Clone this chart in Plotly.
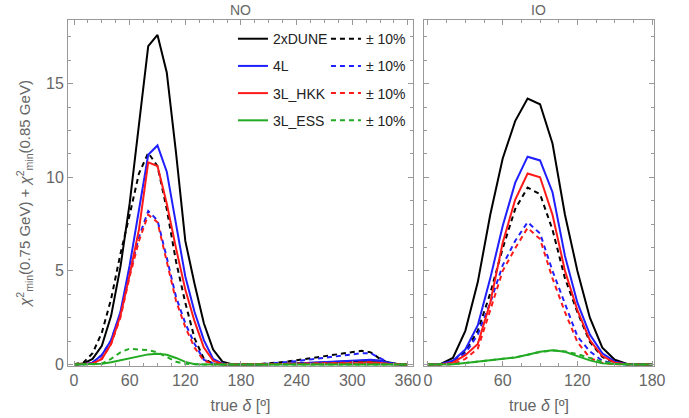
import plotly.graph_objects as go

# ---------------- data ----------------
deg_no = list(range(0, 361, 10))
deg_io = list(range(0, 181, 10))

series_names = ["2xDUNE", "4L", "3L_HKK", "3L_ESS"]
dash_label = "± 10%"

no_dune = [0, 0.05, 0.3, 1.0, 2.6, 5.2, 8.6, 12.8, 17.0, 17.6, 15.6, 11.3, 6.6, 4.3, 2.2, 0.8, 0.15, 0.02, 0,
           0, 0, 0.01, 0.02, 0.04, 0.06, 0.08, 0.1, 0.12, 0.14, 0.17, 0.19, 0.21, 0.22, 0.2, 0.1, 0.02, 0]
no_dune_d = [0.02, 0.1, 0.6, 1.7, 3.5, 5.9, 8.0, 10.2, 11.3, 10.6, 8.3, 5.5, 3.3, 1.4, 0.3, 0.05, 0, 0, 0,
             0.01, 0.03, 0.06, 0.1, 0.16, 0.23, 0.3, 0.37, 0.44, 0.5, 0.58, 0.66, 0.73, 0.65, 0.3, 0.05, 0, 0]
no_4l = [0, 0.02, 0.1, 0.5, 1.3, 2.8, 5.3, 8.2, 11.2, 11.7, 10.3, 7.5, 4.7, 2.8, 1.3, 0.3, 0.05, 0, 0,
         0, 0, 0.01, 0.02, 0.04, 0.06, 0.08, 0.1, 0.12, 0.15, 0.18, 0.2, 0.23, 0.25, 0.2, 0.08, 0.01, 0]
no_4l_d = [0, 0.02, 0.1, 0.5, 1.3, 2.7, 4.9, 6.8, 8.2, 7.7, 5.7, 3.6, 2.2, 1.1, 0.25, 0.05, 0, 0, 0,
           0.01, 0.02, 0.05, 0.08, 0.12, 0.18, 0.24, 0.3, 0.36, 0.42, 0.48, 0.54, 0.6, 0.6, 0.35, 0.08, 0, 0]
no_hkk = [0, 0.01, 0.05, 0.3, 1.1, 2.6, 4.8, 7.2, 10.8, 10.6, 8.6, 6.2, 4.0, 2.3, 0.9, 0.2, 0.03, 0, 0,
          0, 0, 0, 0.01, 0.01, 0.02, 0.03, 0.04, 0.05, 0.06, 0.07, 0.08, 0.09, 0.1, 0.08, 0.03, 0, 0]
no_hkk_d = [0, 0.01, 0.05, 0.3, 1.1, 2.5, 4.7, 6.6, 8.0, 7.6, 5.5, 3.4, 2.0, 0.9, 0.2, 0.03, 0, 0, 0,
            0, 0.01, 0.01, 0.02, 0.03, 0.04, 0.05, 0.06, 0.07, 0.08, 0.09, 0.1, 0.11, 0.12, 0.08, 0.02, 0, 0]
no_ess = [0, 0, 0, 0.04, 0.12, 0.22, 0.34, 0.46, 0.54, 0.58, 0.52, 0.35, 0.14, 0.02, 0, 0, 0, 0, 0,
          0, 0, 0, 0, 0, 0, 0, 0.01, 0.01, 0.01, 0.02, 0.02, 0.02, 0.02, 0.02, 0.01, 0, 0]
no_ess_d = [0, 0, 0.01, 0.05, 0.3, 0.65, 0.85, 0.8, 0.77, 0.65, 0.38, 0.15, 0.04, 0, 0, 0, 0, 0, 0,
            0, 0, 0, 0, 0, 0, 0, 0.01, 0.01, 0.01, 0.02, 0.02, 0.02, 0.02, 0.02, 0.01, 0, 0]

io_dune = [0, 0.02, 0.35, 1.8, 4.4, 8.0, 11.0, 13.0, 14.2, 13.9, 11.8, 8.0, 5.0, 2.5, 0.9, 0.25, 0.03, 0, 0]
io_dune_d = [0, 0.02, 0.15, 0.7, 1.8, 3.8, 6.2, 8.3, 9.45, 9.1, 7.2, 4.6, 2.8, 1.2, 0.4, 0.1, 0.01, 0, 0]
io_4l = [0, 0.01, 0.2, 0.8, 2.1, 4.6, 7.4, 9.7, 11.1, 10.9, 9.2, 5.8, 3.3, 1.6, 0.6, 0.15, 0.02, 0, 0]
io_4l_d = [0, 0.01, 0.1, 0.6, 1.6, 3.3, 5.3, 6.6, 7.6, 7.0, 5.0, 3.3, 1.5, 0.7, 0.2, 0.05, 0, 0, 0]
io_hkk = [0, 0, 0.1, 0.5, 1.1, 3.3, 6.5, 8.8, 10.2, 10.0, 8.0, 5.0, 2.9, 1.3, 0.45, 0.1, 0.01, 0, 0]
io_hkk_d = [0, 0, 0.02, 0.3, 0.85, 2.9, 5.0, 6.2, 7.3, 6.7, 4.6, 2.8, 1.2, 0.35, 0.08, 0.01, 0, 0, 0]
io_ess = [0, 0, 0.02, 0.08, 0.15, 0.22, 0.28, 0.38, 0.52, 0.68, 0.76, 0.68, 0.45, 0.22, 0.06, 0.01, 0, 0, 0]
io_ess_d = [0, 0, 0.02, 0.08, 0.15, 0.22, 0.28, 0.38, 0.52, 0.67, 0.75, 0.7, 0.55, 0.35, 0.15, 0.04, 0, 0, 0]

no_solid = [no_dune, no_4l, no_hkk, no_ess]
no_dashed = [no_dune_d, no_4l_d, no_hkk_d, no_ess_d]
io_solid = [io_dune, io_4l, io_hkk, io_ess]
io_dashed = [io_dune_d, io_4l_d, io_hkk_d, io_ess_d]

colors = ["#000000", "#1f1fff", "#ff1a1a", "#22aa22"]

# ---------------- figure ----------------
fig = go.Figure()
LW = 2
DASH = "5px,4px"

for i, name in enumerate(series_names):
    c = colors[i]
    fig.add_trace(go.Scatter(x=deg_no, y=no_solid[i], mode="lines", name=name,
                             line=dict(color=c, width=LW), xaxis="x", yaxis="y",
                             legend="legend", legendgroup="s%d" % i))
    fig.add_trace(go.Scatter(x=deg_no, y=no_dashed[i], mode="lines", name=dash_label,
                             line=dict(color=c, width=LW, dash=DASH), xaxis="x", yaxis="y",
                             legend="legend2", legendgroup="d%d" % i))
    fig.add_trace(go.Scatter(x=deg_io, y=io_solid[i], mode="lines", name=name,
                             line=dict(color=c, width=LW), xaxis="x2", yaxis="y2",
                             showlegend=False))
    fig.add_trace(go.Scatter(x=deg_io, y=io_dashed[i], mode="lines", name=dash_label,
                             line=dict(color=c, width=LW, dash=DASH), xaxis="x2", yaxis="y2",
                             showlegend=False))

FONT = "Liberation Sans, Arial, sans-serif"
GRAY = "#999999"
TXT = "#666666"

axis_common = dict(showline=True, linecolor=GRAY, linewidth=1, mirror="allticks",
                   ticks="inside", ticklen=5, tickcolor=GRAY, tickwidth=1,
                   showgrid=False, zeroline=False, automargin=False,
                   tickfont=dict(size=16, color=TXT, family=FONT))

xtitle = dict(text="true <i>δ</i> [º]", font=dict(size=16, color=TXT, family=FONT), standoff=11)

fig.update_layout(
    width=689, height=418,
    margin=dict(l=68, r=35, t=20, b=52),
    paper_bgcolor="white", plot_bgcolor="white",
    font=dict(family=FONT),
    hovermode=False,
    xaxis=dict(domain=[0, 0.5887], range=[-6.5, 365.5], tickvals=[0, 60, 120, 180, 240, 300, 360],
               minor=dict(dtick=15, tick0=0, ticks="inside", ticklen=3, tickcolor=GRAY),
               title=xtitle, anchor="y", **axis_common),
    xaxis2=dict(domain=[0.6075, 1], range=[-3.2, 181.5], tickvals=[0, 60, 120, 180],
                minor=dict(dtick=15, tick0=0, ticks="inside", ticklen=3, tickcolor=GRAY),
                title=xtitle, anchor="y2", **axis_common),
    yaxis=dict(range=[-0.08, 18.4], tick0=0, dtick=5, anchor="x",
               minor=dict(dtick=1.25, tick0=0, ticks="inside", ticklen=3, tickcolor=GRAY),
               title=dict(text="<i>χ</i><sup>2</sup><sub>min</sub>(0.75 GeV) + <i>χ</i><sup>2</sup><sub>min</sub>(0.85 GeV)",
                          font=dict(size=15, color=TXT, family=FONT), standoff=11),
               **axis_common),
    yaxis2=dict(range=[-0.08, 18.4], tick0=0, dtick=5, anchor="x2", matches="y", showticklabels=False,
                minor=dict(dtick=1.25, tick0=0, ticks="inside", ticklen=3, tickcolor=GRAY),
                **axis_common),
    legend=dict(x=0.2815, y=0.991, xanchor="left", yanchor="top", bgcolor="rgba(0,0,0,0)",
                font=dict(size=14, color="#222222", family=FONT), tracegroupgap=6),
    legend2=dict(x=0.4402, y=0.991, xanchor="left", yanchor="top", bgcolor="rgba(0,0,0,0)",
                 font=dict(size=14, color="#222222", family=FONT), tracegroupgap=6),
    annotations=[
        dict(text="NO", x=0.5887 / 2, y=1, xref="paper", yref="paper", xanchor="center", yanchor="bottom",
             showarrow=False, font=dict(size=14, color=TXT, family=FONT), yshift=0),
        dict(text="IO", x=(0.6075 + 1) / 2, y=1, xref="paper", yref="paper", xanchor="center", yanchor="bottom",
             showarrow=False, font=dict(size=14, color=TXT, family=FONT), yshift=0),
    ],
)

fig.write_html("out.html", config={"displayModeBar": False, "staticPlot": True},
               post_script="document.body.style.margin='0px';")
